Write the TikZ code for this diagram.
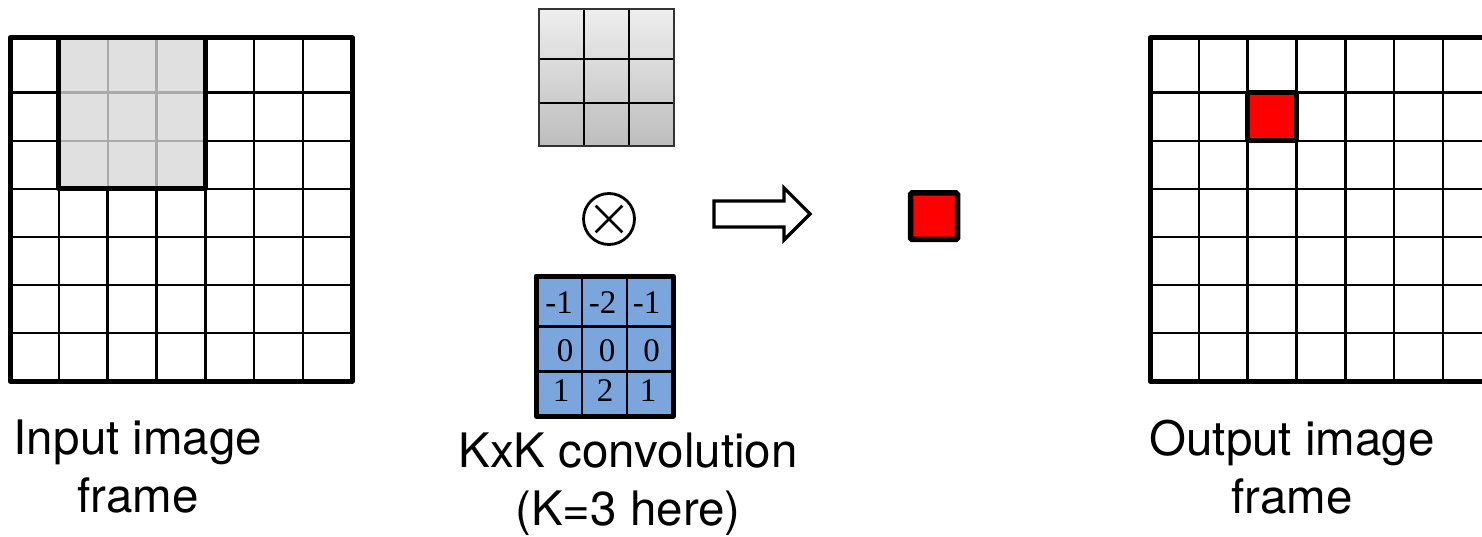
\documentclass[tikz,border=0pt]{standalone}
\usepackage{fontspec}
\setmainfont{TeX Gyre Heros}
\newfontfamily\numfont{Liberation Serif}
\usetikzlibrary{calc}

\definecolor{cellgray}{RGB}{224,224,224}
\definecolor{innergray}{RGB}{170,170,170}
\definecolor{kerneltop}{RGB}{238,238,238}
\definecolor{kernelbot}{RGB}{189,189,189}
\definecolor{sobelblue}{RGB}{122,166,221}
\definecolor{pixred}{RGB}{255,0,0}

\tikzset{
  gridline/.style={line width=2.6pt, black},
  frameline/.style={line width=5pt, black, line join=round},
  caption/.style={font=\fontsize{47.5}{58}\selectfont, align=center, inner sep=0pt, anchor=north},
  coef/.style={font=\numfont\fontsize{33}{33}\selectfont, inner sep=0pt, anchor=base},
}

\begin{document}
\begin{tikzpicture}[x=1pt,y=-1pt]
\useasboundingbox (0,0) rectangle (1482,537);

% ---- input frame: 7x7 grid with the 3x3 window highlighted ----
\foreach \i in {1,...,6}
  \draw[gridline] ({10+\i*48.8},38) -- ({10+\i*48.8},381);
\foreach \y in {92.5,141,189,237,285,333}
  \draw[gridline] (10,\y) -- (352,\y);
\fill[cellgray] (58.8,38) rectangle (205.4,189);
\foreach \x in {107.6,156.4}
  \draw[line width=2.2pt, innergray] (\x,38) -- (\x,189);
\foreach \y in {92.5,141}
  \draw[line width=2.2pt, innergray] (58.8,\y) -- (205.4,\y);
\draw[frameline] (58.8,38) rectangle (205.4,189);
\draw[frameline] (10,38) rectangle (352,381);

% ---- generic 3x3 kernel ----
\shade[top color=kerneltop, bottom color=kernelbot] (539,9) rectangle (674,146);
\foreach \x in {584,629}
  \draw[line width=2.5pt] (\x,9) -- (\x,146);
\foreach \y in {59,103}
  \draw[line width=2.5pt] (539,\y) -- (674,\y);
\draw[line width=2.5pt, black!80] (539,9) rectangle (674,146);

% ---- convolution operator ----
\node[circle, draw, line width=2.8pt, minimum size=51pt, inner sep=0pt] (conv) at (609,219) {};
\draw[line width=2.8pt] ($(conv.center)!0.7!(conv.north west)$) -- ($(conv.center)!0.7!(conv.south east)$);
\draw[line width=2.8pt] ($(conv.center)!0.7!(conv.north east)$) -- ($(conv.center)!0.7!(conv.south west)$);

% ---- Sobel kernel ----
\fill[sobelblue] (536,276) rectangle (673,416);
\foreach \x in {582,627}
  \draw[line width=2.2pt] (\x,276) -- (\x,416);
\foreach \y in {326.5,371.5}
  \draw[line width=2.2pt] (536,\y) -- (673,\y);
\draw[frameline] (536,276) rectangle (673,416);
\node[coef] (k11) at (559,313.5) {-1};
\node[coef] (k12) at (602.5,313.5) {-2};
\node[coef] (k13) at (646.5,313.5) {-1};
\node[coef] (k21) at (565,361.5) {0};
\node[coef] (k22) at (607,361.5) {0};
\node[coef] (k23) at (651.5,361.5) {0};
\node[coef] (k31) at (561,401.5) {1};
\node[coef] (k32) at (605,401.5) {2};
\node[coef] (k33) at (648,401.5) {1};

% ---- block arrow ----
\draw[line width=3.2pt, line join=miter, fill=white]
  (714,201) -- (784,201) -- (784,188) -- (810,214) -- (784,240) -- (784,227) -- (714,227) -- cycle;

% ---- resulting pixel ----
\draw[line width=5.5pt, fill=pixred, rounded corners=1.5pt] (910.5,193) rectangle (957.5,239.5);

% ---- output frame (runs off the right edge) ----
\begin{scope}
\clip (1140,0) rectangle (1482,537);
\foreach \i in {1,...,6}
  \draw[gridline] ({1150+\i*48.8},38) -- ({1150+\i*48.8},381);
\foreach \y in {92.5,141,189,237,285,333}
  \draw[gridline] (1150,\y) -- (1495,\y);
\draw[frameline] (1150,38) rectangle (1491.6,381);
\draw[frameline, fill=pixred] (1247.6,92.5) rectangle (1296.4,141);
\end{scope}

% ---- captions ----
\node[caption] (inlbl) at (138,420) {Input image\\frame};
\node[caption] (convlbl) at (628,433) {KxK convolution\\(K=3 here)};
\node[caption] (outlbl) at (1292,420) {Output image\\frame};
\end{tikzpicture}
\end{document}
